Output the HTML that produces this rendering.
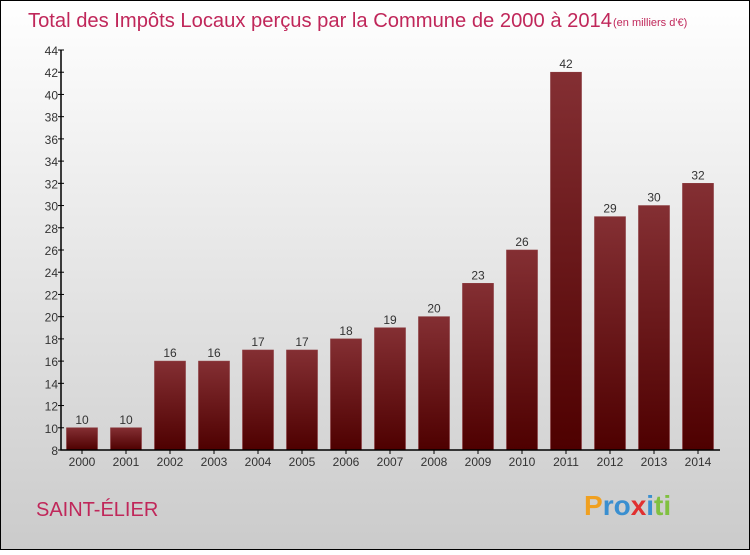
<!DOCTYPE html>
<html><head><meta charset="utf-8"><style>
html,body{margin:0;padding:0}
body{width:750px;height:550px;overflow:hidden;font-family:"Liberation Sans",sans-serif}
</style></head><body>
<svg id="chart" width="750" height="550" xmlns="http://www.w3.org/2000/svg">
<defs>
<linearGradient id="bg" x1="0" y1="0" x2="0" y2="1"><stop offset="0" stop-color="#ffffff"/><stop offset="1" stop-color="#cbcbcb"/></linearGradient>
<linearGradient id="bar" x1="0" y1="0" x2="0" y2="1"><stop offset="0" stop-color="#842f33"/><stop offset="1" stop-color="#4e0000"/></linearGradient>
</defs>
<rect x="0.5" y="0.5" width="749" height="549" fill="url(#bg)" stroke="#000"/>
<text x="28" y="27" font-size="20" fill="#c0275a" textLength="584" lengthAdjust="spacingAndGlyphs">Total des Impôts Locaux perçus par la Commune de 2000 à 2014</text>
<text x="613" y="26" font-size="11" fill="#c0275a">(en milliers d'€)</text>
<g id="bars"></g>
<g id="axes"></g>
<text x="36" y="516" font-size="20" fill="#c0275a">SAINT-ÉLIER</text>
<text x="584" y="515" font-size="28" font-weight="bold" fill="#f0a020">P<tspan fill="#3a8fd0">ro</tspan><tspan fill="#e03030">x</tspan><tspan fill="#3a8fd0">i</tspan><tspan fill="#80c040">ti</tspan></text>
</svg>
<script>
const years=["2000","2001","2002","2003","2004","2005","2006","2007","2008","2009","2010","2011","2012","2013","2014"];
const values=[10,10,16,16,17,17,18,19,20,23,26,42,29,30,32];
const yTicks=[8,10,12,14,16,18,20,22,24,26,28,30,32,34,36,38,40,42,44];
const NS="http://www.w3.org/2000/svg";
const y0=450,y1=50,vmin=8,vmax=44,axX=61,firstX=82,step=44,bw=31;
const ys=v=>y0-(v-vmin)*(y0-y1)/(vmax-vmin);
const xs=i=>firstX+i*step;
function mk(t,a,p){const e=document.createElementNS(NS,t);for(const k in a)e.setAttribute(k,a[k]);p.appendChild(e);return e;}
const gb=document.getElementById('bars'),ga=document.getElementById('axes');
values.forEach((v,i)=>{
 const r=mk('rect',{x:xs(i)-bw/2,y:ys(v),width:bw,height:y0-ys(v),fill:'url(#bar)',stroke:'#8a3a3e','stroke-width':0.6},gb);
 
 
 const t=mk('text',{x:xs(i),y:ys(v)-4,'text-anchor':'middle','font-size':12,fill:'#333'},gb);
 t.textContent=v;
 
 
 const xl=mk('text',{x:xs(i),y:466,'text-anchor':'middle','font-size':12,fill:'#333'},ga);
 xl.textContent=years[i];
 
 
 mk('line',{x1:xs(i),x2:xs(i),y1:y0,y2:y0+4,stroke:'#000'},ga);
});
const ax=mk('path',{d:`M${axX} ${y1}V${y0}H720`,stroke:'#000','stroke-width':1.5,fill:'none'},ga);


yTicks.forEach(v=>{
 mk('line',{x1:axX-3,x2:axX+3,y1:ys(v),y2:ys(v),stroke:'#000'},ga);
 const t=mk('text',{x:axX-3,y:ys(v)+5,'text-anchor':'end','font-size':12,fill:'#333'},ga);
 t.textContent=v;
 
 
});
</script>
</body></html>
